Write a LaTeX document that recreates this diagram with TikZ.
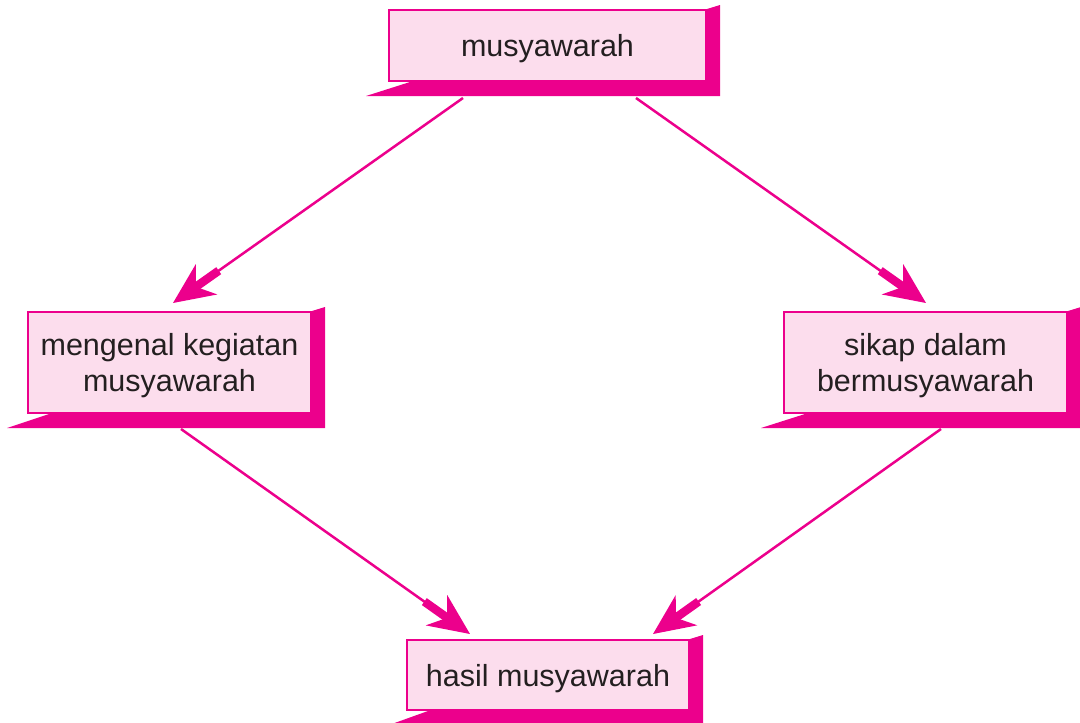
\documentclass[tikz,border=0pt]{standalone}
\usepackage{fontspec}
\setmainfont{Liberation Sans}
\usetikzlibrary{arrows.meta,calc}
\definecolor{mag}{HTML}{EC008C}
\definecolor{pinkfill}{HTML}{FCDDED}
\definecolor{txt}{HTML}{231F20}
\newcommand\boxshadow[2]{%
  \fill[mag] ($(#1.south west)+(-#2,14)$) -- ($(#1.south west)+(22,0)$) -- (#1.south east)
    -- (#1.north east) -- ($(#1.north east)+(13,-4)$) -- ($(#1.south east)+(13,14)$) -- cycle;}
\newcommand\conn[2]{%
  \draw[connline] (#1) -- (#2);
  \draw[mag,line width=8.5pt] ($(#2)!22pt!(#1)$) -- ($(#2)!56pt!(#1)$);}
\begin{document}
\begin{tikzpicture}[x=1pt,y=-1pt,
  boxnode/.style={draw=mag,line width=2pt,fill=pinkfill,text=txt,align=center,
    inner sep=0pt,text depth=0pt,font=\fontsize{30.5}{36}\selectfont},
  connline/.style={mag,line width=2.5pt,-{Stealth[length=41pt,width=37pt,inset=13pt]}}]
\useasboundingbox (0,0) rectangle (1080,723);
\node[boxnode,minimum width=317pt,minimum height=71pt] (top) at (547.5,45.5) {musyawarah};
\node[boxnode,minimum width=283pt,minimum height=101pt] (left) at (169.5,362.5) {mengenal kegiatan\\musyawarah};
\node[boxnode,minimum width=283pt,minimum height=101pt] (right) at (925.5,362.5) {sikap dalam\\bermusyawarah};
\node[boxnode,minimum width=282pt,minimum height=70pt] (bot) at (548,675) {hasil musyawarah};
\boxshadow{top}{22}
\boxshadow{left}{20}
\boxshadow{right}{22}
\boxshadow{bot}{17}
\coordinate (s1) at ($(top.south west)+(75,16)$);
\coordinate (s2) at ($(top.south west)+(248,16)$);
\coordinate (e1) at ($(left.north west)+(146,-8)$);
\coordinate (e2) at ($(right.north west)+(143,-8)$);
\coordinate (s3) at ($(left.south west)+(154,15)$);
\coordinate (s4) at ($(right.south west)+(158,15)$);
\coordinate (e3) at ($(bot.north west)+(64,-5)$);
\coordinate (e4) at ($(bot.north west)+(247,-5)$);
\conn{s1}{e1}
\conn{s2}{e2}
\conn{s3}{e3}
\conn{s4}{e4}
\end{tikzpicture}
\end{document}
